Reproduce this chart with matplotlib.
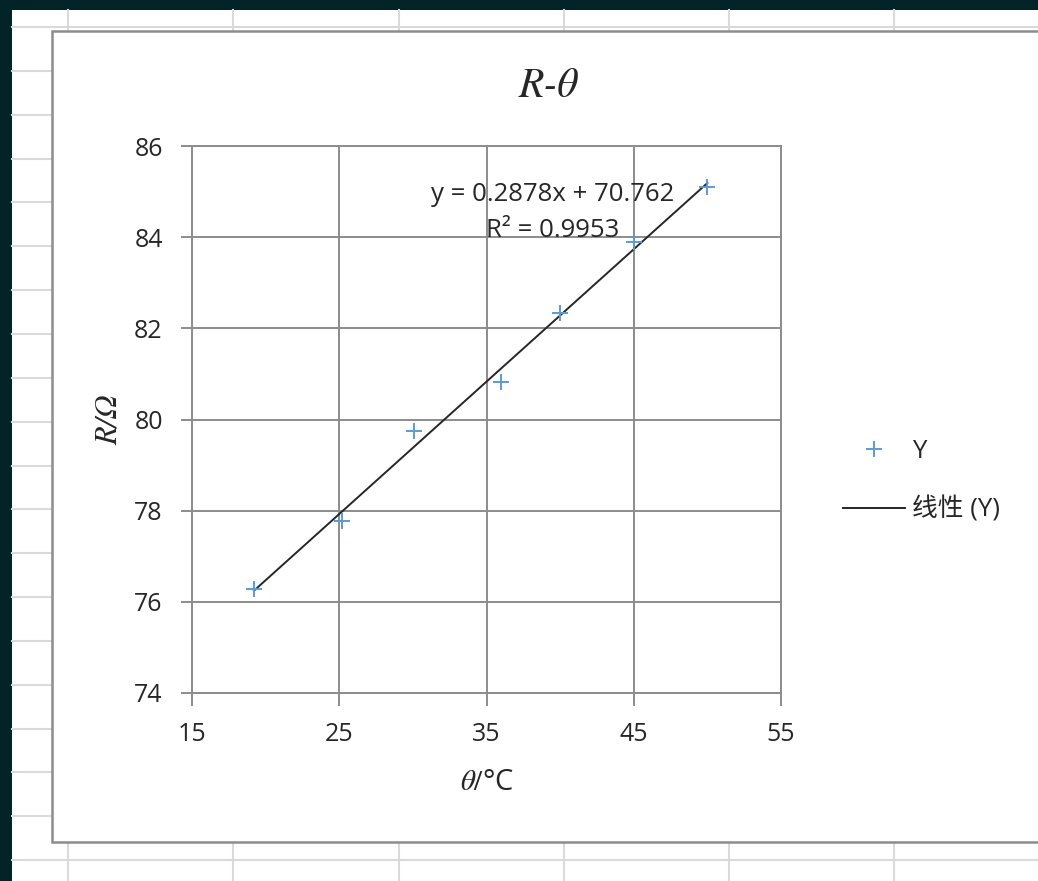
import numpy as np
import matplotlib.pyplot as plt
from matplotlib.patches import Rectangle
from matplotlib.lines import Line2D

# 温度 θ (°C) 与电阻 R (Ω)
theta = [19.2, 25.2, 30.1, 36.0, 40.0, 45.0, 50.0]
R = [76.28, 77.78, 79.75, 80.82, 82.33, 83.90, 85.10]
x_ticks = [15, 25, 35, 45, 55]
y_ticks = [74, 76, 78, 80, 82, 84, 86]

plt.rcParams['font.family'] = ['Open Sans', 'Noto Sans CJK SC', 'DejaVu Sans']
plt.rcParams['mathtext.fontset'] = 'stix'

W, H = 1038, 881
fig = plt.figure(figsize=(W / 100, H / 100), dpi=100)
fig.patch.set_facecolor('#022428')


def fx(px):
    return px / W


def fy(py):
    return 1 - py / H


# 表格背景
fig.add_artist(Rectangle((fx(12), 0), 1, fy(10), transform=fig.transFigure,
                         facecolor='white', edgecolor='none', zorder=0))
for gx in [68, 233.3, 398.6, 564, 729, 894]:
    fig.add_artist(Line2D([fx(gx), fx(gx)], [0, fy(10)], transform=fig.transFigure,
                          color='#dadada', lw=1.5, zorder=1))
for k in range(20):
    gy = 27 + 43.85 * k
    fig.add_artist(Line2D([fx(12), 1], [fy(gy), fy(gy)], transform=fig.transFigure,
                          color='#dadada', lw=1.5, zorder=1))

# 图表区
fig.add_artist(Rectangle((fx(52), fy(842)), fx(1000), fy(31) - fy(842),
                         transform=fig.transFigure, facecolor='white',
                         edgecolor='#8c8c8c', lw=1.8, zorder=2))

ax = fig.add_axes([fx(192), fy(693), fx(781) - fx(192), fy(146) - fy(693)])
ax.set_zorder(3)
ax.set_facecolor('white')

ax.plot(theta, R, '+', color='#5b9bd5', markersize=11, mew=1.4, label='Y', zorder=4)

k, b = np.polyfit(theta, R, 1)
xf = np.array([min(theta), max(theta)])
ax.plot(xf, k * xf + b, color='#262626', lw=1.4, label='线性 (Y)', zorder=3)

ax.set_xlim(15, 55)
ax.set_ylim(74, 86)
ax.set_xticks(x_ticks)
ax.set_yticks(y_ticks)
ax.grid(True, color='#8c8c8c', lw=1.4)
ax.set_axisbelow(True)
for s in ax.spines.values():
    s.set_color('#8c8c8c')
    s.set_linewidth(1.4)
ax.tick_params(axis='both', colors='#8c8c8c', labelcolor='#262626', labelsize=18,
               width=1.4)
ax.tick_params(axis='x', length=9, pad=12)
ax.tick_params(axis='y', length=8, pad=13)

ax.text(0.613, 0.912, 'y = 0.2878x + 70.762', transform=ax.transAxes,
        ha='center', va='center', fontsize=18.5, color='#262626')
ax.text(0.613, 0.846, 'R² = 0.9953', transform=ax.transAxes,
        ha='center', va='center', fontsize=18.5, color='#262626')

ax.set_xlabel(r'$\theta/$°C', fontsize=21, color='#262626', labelpad=15)
ax.set_ylabel('R/Ω', fontsize=22, color='#262626', fontfamily='STIXGeneral',
              fontstyle='italic', labelpad=8)

fig.text(fx(548), fy(87), 'R-θ', fontsize=30, color='#262626', fontfamily='STIXGeneral',
         fontstyle='italic', ha='center', va='center')

fig.legend(loc='center left', bbox_to_anchor=(fx(820), fy(481)), frameon=False,
           fontsize=18.5, handlelength=2.4, handletextpad=0.3, labelspacing=1.25,
           labelcolor='#262626')

fig.savefig('out.png', dpi=100, facecolor=fig.get_facecolor())
